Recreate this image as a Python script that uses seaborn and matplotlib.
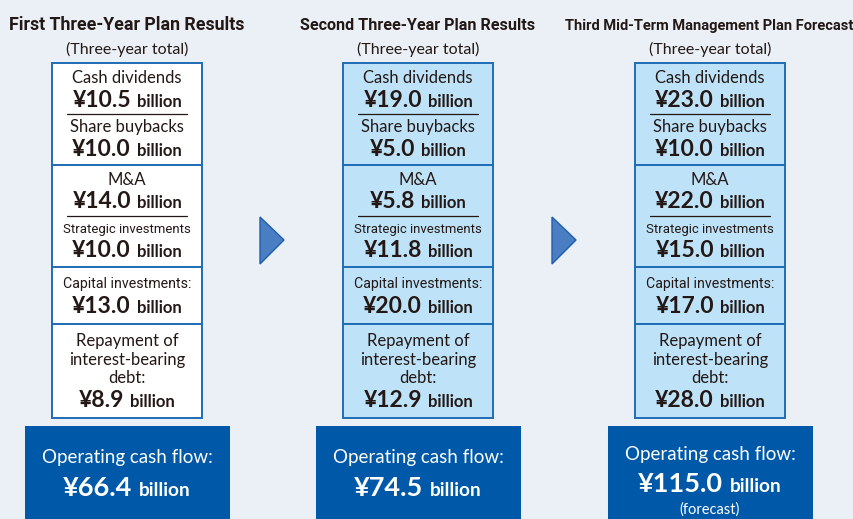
import matplotlib
matplotlib.use("Agg")
import matplotlib.pyplot as plt
from matplotlib.patches import Rectangle, Polygon
import seaborn as sns

sns.set_theme(style="white")
plt.rcParams['font.family'] = ['Lato', 'DejaVu Sans']

# data
plans = ["First Three-Year Plan Results",
         "Second Three-Year Plan Results",
         "Third Mid-Term Management Plan Forecast"]
cash_dividends = [10.5, 19.0, 23.0]
share_buybacks = [10.0, 5.0, 10.0]
m_and_a = [14.0, 5.8, 22.0]
strategic_inv = [10.0, 11.8, 15.0]
capital_inv = [13.0, 20.0, 17.0]
debt_repayment = [8.9, 12.9, 28.0]
operating_cf = [66.4, 74.5, 115.0]
is_forecast = [False, False, True]

BG = "#eaf0f6"
EDGE = "#1f6db6"
DARK = "#0058a8"
TXT = "#231815"
NARROW = ["Roboto", "DejaVu Sans"]
box_fill = ["white", "#bee3f8", "#bee3f8"]
centers = [127, 418, 710]
title_x = [127, 418, 709]
title_w = [234, 235, 288]

fig = plt.figure(figsize=(8.54, 5.19), dpi=100, facecolor=BG)
ax = fig.add_axes([0, 0, 1, 1])
ax.set_facecolor(BG)
ax.set_xlim(0, 854)
ax.set_ylim(519, 0)
ax.axis("off")

renderer = fig.canvas.get_renderer()


def fitted(x, y, s, width, size, **kw):
    # shrink/grow a text so it spans the same width as in the original
    t = ax.text(x, y, s, fontsize=size, ha="center", va="baseline", **kw)
    w = t.get_window_extent(renderer).width
    t.set_fontsize(size * width / w)
    return t


def amount(x, y, value, big, small, color=TXT, gap=6):
    t1 = ax.text(x, y, f"¥{value:.1f}", fontsize=big, fontweight="bold",
                 color=color, ha="left", va="baseline")
    t2 = ax.text(x, y, "billion", fontsize=small, fontweight="bold",
                 color=color, ha="left", va="baseline")
    w1 = t1.get_window_extent(renderer).width
    w2 = t2.get_window_extent(renderer).width
    left = x - (w1 + gap + w2) / 2
    t1.set_x(left)
    t2.set_x(left + w1 + gap)


def label(x, y, s, size=12, **kw):
    ax.text(x, y, s, fontsize=size, color=TXT, ha="center", va="baseline", **kw)


for i, xc in enumerate(centers):
    # titles
    fitted(title_x[i], 30, plans[i], title_w[i], 12, fontweight="bold",
           color=TXT, family=NARROW)
    label(xc, 54, "(Three-year total)", size=11.5)

    # stacked box
    x0, w = xc - 75, 150
    sections = [(63, 165), (165, 267), (267, 324), (324, 418)]
    for top, bot in sections:
        ax.add_patch(Rectangle((x0, top), w, bot - top, facecolor=box_fill[i],
                               edgecolor=EDGE, lw=1.4))
    for yl in (114, 216):
        ax.plot([x0 + 15, x0 + w - 15], [yl, yl], color=TXT, lw=0.9)

    label(xc, 83, "Cash dividends")
    amount(xc, 107, cash_dividends[i], 16.5, 12)
    label(xc, 132, "Share buybacks")
    amount(xc, 156, share_buybacks[i], 16.5, 12)
    label(xc, 185, "M&A")
    amount(xc, 208, m_and_a[i], 16.5, 12)
    fitted(xc, 233, "Strategic investments", 128, 10.5, color=TXT, family=NARROW)
    amount(xc, 257, strategic_inv[i], 16.5, 12)
    fitted(xc, 288, "Capital investments:", 128, 10.5, color=TXT, family=NARROW)
    amount(xc, 313, capital_inv[i], 16.5, 12)
    label(xc, 346, "Repayment of")
    label(xc, 365, "interest-bearing")
    label(xc, 383, "debt:")
    amount(xc, 407, debt_repayment[i], 16.5, 12)

    # operating cash flow box
    ax.add_patch(Rectangle((xc - 102, 426), 205, 100, facecolor=DARK,
                           edgecolor="none"))
    if is_forecast[i]:
        ax.text(xc, 460, "Operating cash flow:", fontsize=13.5, color="white",
                ha="center", va="baseline")
        amount(xc, 492, operating_cf[i], 19.5, 13.8, color="white", gap=7)
        ax.text(xc, 514, "(forecast)", fontsize=10.5, color="white",
                ha="center", va="baseline")
    else:
        ax.text(xc, 463, "Operating cash flow:", fontsize=13.5, color="white",
                ha="center", va="baseline")
        amount(xc, 496, operating_cf[i], 19.5, 13.8, color="white", gap=7)

# arrows between plans
for xa in (260, 552):
    ax.add_patch(Polygon([(xa, 217), (xa + 24, 240), (xa, 264)], closed=True,
                         facecolor="#4a7ec2", edgecolor="#1f5fad", lw=1))

fig.savefig("out.png", dpi=100, facecolor=BG)
